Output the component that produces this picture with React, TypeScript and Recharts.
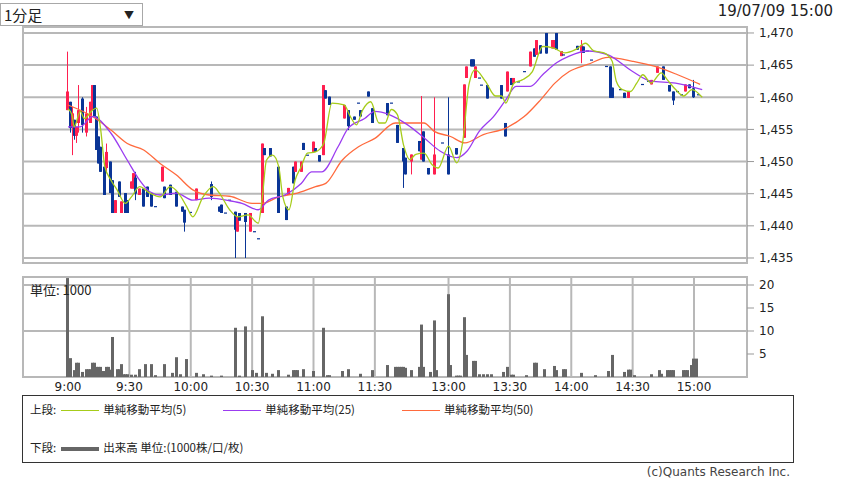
import React from 'react';
import {
  ComposedChart,
  Bar,
  Line,
  XAxis,
  YAxis,
  CartesianGrid,
  ReferenceArea,
} from 'recharts';

// x = minutes from 9:00 (lunch break squeezed: 12:30 session opens at 156)
const TIME_TICKS = [0, 30, 60, 90, 120, 150, 186, 216, 246, 276, 306];
const TIME_LABELS = ['9:00', '9:30', '10:00', '10:30', '11:00', '11:30', '13:00', '13:30', '14:00', '14:30', '15:00'];
const PRICE_TICKS = [1435, 1440, 1445, 1450, 1455, 1460, 1465, 1470];
const VOLUME_TICKS = [5, 10, 15, 20];

// [minute, open, high, low, close]
const AM_CANDLES = [
  [0, 1458.0, 1467.1, 1458.0, 1460.9], [1, 1459.3, 1459.3, 1454.5, 1455.2], [2, 1455.5, 1458.5, 1451.0, 1457.5],
  [3, 1456.5, 1456.5, 1453.4, 1454.0], [4, 1454.0, 1455.4, 1452.9, 1455.4], [5, 1456.0, 1461.9, 1454.5, 1458.0],
  [7, 1459.8, 1460.0, 1454.5, 1455.7], [9, 1454.5, 1458.5, 1453.9, 1457.5], [11, 1456.0, 1459.3, 1456.0, 1459.3],
  [12, 1458.5, 1461.9, 1458.0, 1461.9], [13, 1461.9, 1461.9, 1457.0, 1457.0], [14, 1457.0, 1457.0, 1451.8, 1451.8],
  [15, 1453.9, 1453.9, 1449.7, 1449.7], [16, 1452.3, 1452.3, 1448.4, 1448.4], [18, 1449.2, 1449.2, 1444.8, 1444.8],
  [19, 1449.0, 1452.8, 1448.2, 1451.5], [21, 1450.0, 1450.0, 1445.1, 1445.1], [22, 1447.1, 1447.1, 1442.0, 1442.0],
  [23, 1442.0, 1444.0, 1442.0, 1444.0], [25, 1446.9, 1446.9, 1444.5, 1444.5], [26, 1442.0, 1443.8, 1442.0, 1443.8],
  [28, 1445.1, 1445.1, 1442.0, 1442.0], [29, 1444.0, 1444.0, 1442.0, 1442.0], [31, 1445.8, 1446.9, 1445.8, 1446.9],
  [32, 1445.8, 1448.2, 1445.8, 1448.2], [33, 1447.5, 1448.4, 1444.0, 1445.0], [35, 1444.8, 1445.8, 1444.8, 1445.8],
  [37, 1445.8, 1445.8, 1443.0, 1443.0], [39, 1446.1, 1446.1, 1444.5, 1444.5], [41, 1445.1, 1445.1, 1443.0, 1443.0],
  [43, 1443.0, 1443.0, 1443.0, 1443.0], [46, 1446.9, 1449.2, 1446.9, 1449.2], [47, 1446.1, 1446.1, 1444.3, 1444.3],
  [50, 1446.4, 1446.4, 1444.8, 1444.8], [53, 1445.3, 1445.3, 1443.0, 1443.0], [56, 1443.0, 1443.0, 1442.2, 1442.2],
  [57, 1442.5, 1442.5, 1439.1, 1440.5], [60, 1442.1, 1442.1, 1442.1, 1442.1], [63, 1444.0, 1445.8, 1444.0, 1445.8],
  [70, 1446.5, 1446.9, 1444.0, 1444.5], [74, 1443.0, 1443.0, 1442.2, 1442.2], [75, 1443.3, 1443.3, 1442.0, 1442.0],
  [77, 1442.0, 1442.0, 1442.0, 1442.0], [79, 1444.0, 1444.0, 1444.0, 1444.0], [82, 1442.2, 1442.2, 1435.0, 1439.4],
  [83, 1439.1, 1441.4, 1439.1, 1441.4], [84, 1442.0, 1442.0, 1440.8, 1440.8], [87, 1442.0, 1442.0, 1435.0, 1440.6],
  [89, 1439.1, 1442.0, 1439.1, 1442.0], [91, 1439.1, 1439.1, 1439.1, 1439.1], [93, 1438.0, 1438.0, 1438.0, 1438.0],
  [95, 1442.0, 1452.8, 1442.0, 1452.8], [96, 1452.1, 1452.1, 1451.0, 1451.0], [99, 1452.1, 1452.1, 1450.8, 1450.8],
  [103, 1449.2, 1449.2, 1442.0, 1442.0], [107, 1443.0, 1443.0, 1440.9, 1440.9], [108, 1444.8, 1445.9, 1444.8, 1445.9],
  [110, 1449.2, 1449.2, 1446.6, 1446.6], [111, 1448.4, 1450.0, 1448.4, 1450.0], [114, 1448.4, 1450.0, 1448.4, 1450.0],
  [115, 1452.9, 1452.9, 1451.8, 1451.8], [117, 1451.0, 1451.0, 1451.0, 1451.0], [120, 1451.5, 1453.1, 1451.5, 1453.1],
  [121, 1452.1, 1452.1, 1451.5, 1451.5], [123, 1451.0, 1451.0, 1450.0, 1450.0], [125, 1451.0, 1461.9, 1451.0, 1461.9],
  [126, 1461.1, 1461.1, 1459.8, 1459.8], [128, 1460.1, 1460.1, 1458.8, 1458.8], [135, 1456.7, 1458.8, 1456.7, 1458.8],
  [137, 1458.0, 1458.0, 1454.9, 1455.5], [140, 1457.0, 1457.0, 1456.5, 1456.5], [142, 1459.1, 1459.1, 1459.1, 1459.1],
  [143, 1458.0, 1458.0, 1457.0, 1457.0], [147, 1460.9, 1460.9, 1460.1, 1460.1], [149, 1458.3, 1458.3, 1456.0, 1456.0],
];

const PM_CANDLES = [
  [156, 1459.1, 1459.1, 1457.2, 1457.2], [158, 1459.1, 1459.1, 1459.1, 1459.1], [161, 1455.7, 1455.7, 1452.9, 1452.9],
  [164, 1452.1, 1452.1, 1445.9, 1450.0], [165, 1450.6, 1450.6, 1448.0, 1448.0], [168, 1450.0, 1451.1, 1448.0, 1451.1],
  [172, 1453.2, 1453.2, 1451.6, 1451.6], [173, 1450.3, 1460.2, 1450.3, 1452.9], [174, 1454.7, 1454.7, 1450.0, 1450.0],
  [176, 1449.0, 1449.0, 1448.0, 1448.0], [179, 1448.0, 1460.0, 1448.0, 1451.1], [183, 1452.9, 1452.9, 1452.9, 1452.9],
  [186, 1451.1, 1460.0, 1448.0, 1448.0], [190, 1452.1, 1452.1, 1451.1, 1451.1], [194, 1453.7, 1462.0, 1453.7, 1462.0],
  [195, 1463.0, 1464.8, 1463.0, 1464.8], [197, 1465.9, 1465.9, 1464.8, 1464.8], [198, 1465.9, 1465.9, 1464.8, 1464.8],
  [199, 1463.0, 1464.8, 1463.0, 1464.8], [201, 1463.0, 1463.0, 1463.0, 1463.0], [202, 1461.9, 1461.9, 1461.9, 1461.9],
  [205, 1461.9, 1461.9, 1459.8, 1459.8], [212, 1461.9, 1461.9, 1459.8, 1459.8], [214, 1456.0, 1456.0, 1453.9, 1453.9],
  [215, 1460.9, 1464.0, 1460.9, 1464.0], [217, 1463.0, 1463.0, 1461.9, 1461.9], [218, 1462.2, 1463.0, 1462.2, 1463.0],
  [220, 1462.4, 1462.4, 1462.4, 1462.4], [223, 1464.0, 1464.0, 1464.0, 1464.0], [226, 1464.8, 1467.1, 1464.8, 1467.1],
  [228, 1467.6, 1467.6, 1466.3, 1466.3], [229, 1466.6, 1468.9, 1466.6, 1468.9], [231, 1468.1, 1468.1, 1466.8, 1466.8],
  [234, 1470.0, 1470.0, 1466.8, 1466.8], [237, 1467.6, 1468.9, 1467.6, 1468.9], [238, 1467.6, 1468.9, 1467.6, 1468.9],
  [239, 1470.0, 1470.0, 1467.4, 1467.4], [241, 1466.4, 1467.2, 1466.4, 1467.2], [242, 1466.6, 1466.6, 1466.6, 1466.6],
  [249, 1468.0, 1468.0, 1467.4, 1467.4], [251, 1467.1, 1468.9, 1465.3, 1468.1], [252, 1467.9, 1467.9, 1466.9, 1466.9],
  [254, 1467.2, 1467.2, 1467.2, 1467.2], [256, 1465.8, 1465.8, 1465.8, 1465.8], [263, 1464.8, 1464.8, 1464.8, 1464.8],
  [265, 1464.8, 1464.8, 1459.9, 1459.9], [266, 1461.5, 1461.5, 1459.9, 1459.9], [270, 1461.2, 1461.2, 1461.2, 1461.2],
  [272, 1460.7, 1460.7, 1459.9, 1459.9], [274, 1459.9, 1460.9, 1459.9, 1460.9], [281, 1462.0, 1462.0, 1462.0, 1462.0],
  [284, 1462.5, 1462.5, 1462.5, 1462.5], [285, 1462.0, 1462.7, 1462.0, 1462.7], [288, 1463.8, 1464.8, 1463.8, 1464.8],
  [291, 1464.8, 1464.8, 1462.7, 1462.7], [294, 1461.9, 1461.9, 1460.9, 1460.9], [296, 1460.9, 1460.9, 1458.8, 1459.5],
  [298, 1460.9, 1460.9, 1460.9, 1460.9], [300, 1460.4, 1460.4, 1460.4, 1460.4], [302, 1460.9, 1462.0, 1460.9, 1462.0],
  [304, 1462.0, 1462.0, 1461.4, 1461.4], [306, 1461.4, 1462.7, 1459.9, 1460.0], [308, 1460.4, 1460.4, 1460.4, 1460.4],
];

// [minute, volume in 1000 shares]
const AM_VOLUME = [
  [0, 21.5], [1, 4.1], [3, 1.5], [4, 3.1], [5, 3.1], [7, 1.1], [9, 1.7], [10, 1.7], [11, 1.7], [12, 3.1],
  [13, 3.1], [14, 2.2], [15, 2.2], [16, 2.2], [17, 1.3], [18, 1.3], [19, 2.2], [20, 2.2], [21, 1.6], [22, 8.7],
  [24, 1.7], [25, 1.7], [26, 2.8], [27, 0.6], [28, 0.6], [29, 0.6], [31, 0.5], [33, 0.5], [35, 1.7], [38, 2.8],
  [41, 2.8], [43, 0.4], [47, 2.8], [51, 0.9], [53, 4.3], [55, 0.6], [58, 3.9], [63, 0.9], [66, 0.6], [70, 0.3],
  [75, 0.3], [82, 10.7], [84, 0.3], [87, 11.0], [90, 1.5], [92, 0.9], [95, 13.2], [97, 0.9], [100, 0.7], [103, 1.5],
  [108, 0.5], [110, 1.5], [111, 1.5], [112, 1.5], [115, 1.7], [120, 1.3], [125, 10.7], [127, 0.4], [128, 0.4],
  [134, 1.3], [137, 1.7], [143, 0.7], [149, 1.5],
];

const PM_VOLUME = [
  [156, 2.6], [160, 2.2], [161, 2.2], [162, 2.2], [163, 2.2], [164, 2.2], [165, 2.0], [168, 1.5], [172, 2.2],
  [173, 11.4], [174, 2.2], [177, 1.1], [179, 12.3], [180, 1.5], [186, 18.0], [187, 2.6], [190, 0.3], [191, 0.3],
  [192, 0.3], [194, 13.0], [195, 4.8], [198, 3.5], [199, 3.5], [201, 0.6], [203, 0.6], [205, 0.6], [207, 0.6],
  [213, 1.1], [215, 2.2], [217, 0.5], [218, 0.5], [224, 0.4], [228, 3.1], [229, 3.1], [233, 1.7], [238, 2.4],
  [239, 1.5], [242, 1.7], [243, 1.7], [251, 0.9], [258, 0.4], [264, 1.3], [266, 4.8], [272, 1.1], [274, 1.6],
  [275, 1.6], [277, 0.4], [285, 0.6], [289, 1.5], [290, 0.7], [293, 1.5], [294, 1.5], [295, 1.5], [296, 1.5],
  [301, 1.5], [302, 1.5], [303, 1.5], [305, 2.6], [306, 4.0], [307, 4.0],
];

// moving averages: [minute, value]
const SMA5 = [
  [0, 1458.2], [2, 1457.2], [3, 1455.4], [6, 1457.8], [8, 1456.7], [12, 1458.0], [14, 1458.3], [16, 1454.9],
  [18, 1449.2], [21, 1447.1], [24, 1445.6], [28, 1443.5], [31, 1444.5], [35, 1446.1], [40, 1445.1], [45, 1444.5],
  [50, 1446.1], [54, 1445.1], [58, 1443.0], [61, 1441.4], [66, 1444.5], [71, 1446.1], [74, 1445.1], [79, 1442.5],
  [83, 1441.4], [88, 1441.7], [93, 1440.4], [95, 1444.5], [97, 1450.2], [100, 1451.0], [103, 1449.2], [105, 1444.5],
  [108, 1442.5], [111, 1447.1], [114, 1449.2], [117, 1451.3], [121, 1451.5], [125, 1452.8], [129, 1459.1],
  [135, 1458.8], [138, 1457.0], [141, 1455.7], [144, 1458.0], [148, 1459.3], [152, 1456.0], [155, 1456.0],
  [158, 1458.1], [161, 1457.3], [164, 1452.6], [167, 1450.3], [170, 1451.1], [174, 1451.3], [178, 1449.5],
  [181, 1449.0], [186, 1452.4], [190, 1449.8], [193, 1453.2], [196, 1462.0], [199, 1464.3], [204, 1462.5],
  [209, 1460.2], [212, 1460.2], [214, 1459.1], [218, 1462.2], [222, 1462.7], [227, 1464.0], [232, 1467.9],
  [237, 1467.7], [243, 1466.9], [248, 1467.4], [253, 1468.4], [257, 1467.2], [262, 1466.9], [266, 1465.6],
  [268, 1462.5], [271, 1461.2], [275, 1460.9], [278, 1462.2], [281, 1463.5], [285, 1462.2], [290, 1463.8],
  [293, 1462.7], [297, 1461.2], [301, 1460.2], [305, 1461.2], [310, 1460.0],
];

const SMA25 = [
  [0, 1455.4], [6, 1455.4], [12, 1457.0], [21, 1454.4], [29, 1450.2], [35, 1447.1], [40, 1445.3], [45, 1444.8],
  [53, 1445.1], [61, 1444.0], [69, 1444.3], [79, 1443.9], [85, 1443.5], [93, 1442.5], [98, 1444.0], [106, 1444.8],
  [114, 1446.6], [119, 1448.4], [124, 1448.4], [132, 1452.3], [137, 1455.2], [145, 1456.7], [150, 1457.8],
  [157, 1457.3], [166, 1455.7], [174, 1453.7], [182, 1451.6], [190, 1450.6], [195, 1451.6], [201, 1454.7],
  [208, 1457.0], [214, 1459.6], [219, 1461.7], [226, 1461.7], [232, 1463.5], [239, 1465.4], [245, 1466.4],
  [254, 1467.2], [264, 1466.6], [276, 1464.0], [285, 1462.5], [297, 1462.2], [310, 1461.2],
];

const SMA50 = [
  [0, 1458.8], [12, 1457.0], [21, 1454.9], [29, 1452.8], [37, 1451.8], [45, 1449.7], [53, 1447.9], [61, 1445.6],
  [69, 1444.8], [79, 1444.6], [90, 1443.5], [95, 1443.5], [103, 1444.5], [111, 1445.0], [121, 1446.1],
  [126, 1446.6], [134, 1450.2], [142, 1452.3], [150, 1453.6], [160, 1456.0], [174, 1456.0], [179, 1454.7],
  [187, 1453.9], [194, 1452.9], [203, 1454.2], [214, 1455.2], [223, 1457.0], [231, 1459.6], [238, 1462.2],
  [245, 1464.0], [254, 1465.1], [264, 1466.2], [276, 1465.6], [287, 1464.8], [298, 1463.5], [309, 1462.0],
];

const X_DOMAIN = [-22, 331.9];
const PRICE_DOMAIN = [1434.22, 1470.93];
const VOLUME_DOMAIN = [0, 21.74];

const UP = '#ff1f4f';
const DOWN = '#0a3596';
const GRID = '#b8b8b8';
const FONT = '"DejaVu Sans", sans-serif';
const JP = '"Noto Sans CJK JP", sans-serif';

const candles = [...AM_CANDLES, ...PM_CANDLES].map(([t, o, h, l, c]) => ({
  t, o, h, l, c,
  range: [l, h > l ? h : h + 0.001],
}));
const volumes = [...AM_VOLUME, ...PM_VOLUME].map(([t, v]) => ({ t, v }));
const toPoints = (rows: number[][]) => rows.map(([t, v]) => ({ t, v }));

const Candle = (props: any) => {
  const { x, y, width, height, payload } = props;
  if (!payload || !Number.isFinite(x) || !Number.isFinite(y)) return <g />;
  const { o, h, l, c } = payload;
  const k = h > l ? height / (h - l) : 0;
  const cx = Math.floor(x + width / 2);
  const top = y + (h - Math.max(o, c)) * k;
  const bottom = y + (h - Math.min(o, c)) * k;
  if (o === c) {
    return (
      <g>
        {h > l && <rect x={cx} y={y} width={1} height={height} fill={DOWN} />}
        <rect x={cx - 1} y={top - 0.5} width={3} height={1.2} fill={DOWN} />
      </g>
    );
  }
  const color = c > o ? UP : DOWN;
  return (
    <g>
      <rect x={cx} y={y} width={1} height={Math.max(height, 1)} fill={color} />
      <rect x={cx - 1} y={top} width={3} height={Math.max(bottom - top, 1)} fill={color} />
    </g>
  );
};

const VolumeBar = (props: any) => {
  const { x, y, width, height } = props;
  if (!Number.isFinite(x) || !Number.isFinite(y)) return <g />;
  const cx = Math.floor(x + width / 2);
  return <rect x={cx - 1} y={y} width={3} height={Math.max(height, 0)} fill="#666666" />;
};

const fmtPrice = (v: number) => v.toLocaleString('en-US');

const LegendLine = ({ color, thick }: { color: string; thick?: boolean }) => (
  <span
    style={{
      display: 'inline-block',
      width: 38,
      height: 0,
      borderTop: `${thick ? 4 : 1.5}px solid ${color}`,
      verticalAlign: 'middle',
      margin: '0 4px 0 5px',
    }}
  />
);

export default function App() {
  return (
    <div
      style={{
        position: 'absolute',
        left: 0,
        top: 0,
        width: 844,
        height: 486,
        background: '#fff',
        fontFamily: FONT,
        color: '#222',
        overflow: 'hidden',
      }}
    >
      {/* period selector */}
      <div
        style={{
          position: 'absolute',
          left: 0,
          top: 3,
          width: 138,
          height: 21,
          border: '1px solid #a8a8a8',
          fontFamily: JP,
          fontSize: 15,
          lineHeight: '21px',
          paddingLeft: 3,
          boxSizing: 'content-box',
        }}
      >
        1分足
        <span style={{ position: 'absolute', right: 8, top: 0, fontSize: 10 }}>▼</span>
      </div>
      <div style={{ position: 'absolute', right: 11, top: 2, fontSize: 15 }}>19/07/09 15:00</div>

      {/* price chart */}
      <div style={{ position: 'absolute', left: 0, top: 0 }}>
        <ComposedChart
          width={844}
          height={270}
          data={candles}
          margin={{ top: 27, right: 46, bottom: 7, left: 23 }}
        >
          <CartesianGrid stroke={GRID} strokeWidth={2} />
          <ReferenceArea
            x1={X_DOMAIN[0]}
            x2={X_DOMAIN[1]}
            y1={PRICE_DOMAIN[0]}
            y2={PRICE_DOMAIN[1]}
            fill="none"
            fillOpacity={0}
            stroke={GRID}
            strokeWidth={2}
          />
          <XAxis
            dataKey="t"
            type="number"
            domain={X_DOMAIN}
            allowDataOverflow
            ticks={TIME_TICKS}
            height={0}
            tick={false}
            axisLine={false}
            tickLine={false}
          />
          <YAxis
            orientation="right"
            domain={PRICE_DOMAIN}
            allowDataOverflow
            ticks={PRICE_TICKS}
            tickFormatter={fmtPrice}
            width={51}
            axisLine={false}
            tickLine={{ stroke: '#999' }}
            tickSize={7}
            tickMargin={5}
            tick={{ fontSize: 12, fill: '#222', fontFamily: FONT }}
          />
          <Bar dataKey="range" barSize={2} shape={Candle} isAnimationActive={false} />
          <Line data={toPoints(SMA50)} dataKey="v" type="monotone" stroke="#ff6a3d" strokeWidth={1.3} dot={false} isAnimationActive={false} />
          <Line data={toPoints(SMA25)} dataKey="v" type="monotone" stroke="#9b3cf0" strokeWidth={1.3} dot={false} isAnimationActive={false} />
          <Line data={toPoints(SMA5)} dataKey="v" type="monotone" stroke="#a6cc1a" strokeWidth={1.3} dot={false} isAnimationActive={false} />
        </ComposedChart>
      </div>

      {/* volume chart */}
      <div style={{ position: 'absolute', left: 0, top: 270 }}>
        <ComposedChart
          width={844}
          height={125}
          data={volumes}
          margin={{ top: 7, right: 46, bottom: 0, left: 23 }}
        >
          <CartesianGrid stroke={GRID} strokeWidth={2} />
          <ReferenceArea
            x1={X_DOMAIN[0]}
            x2={X_DOMAIN[1]}
            y1={VOLUME_DOMAIN[0]}
            y2={VOLUME_DOMAIN[1]}
            fill="none"
            fillOpacity={0}
            stroke={GRID}
            strokeWidth={2}
          />
          <XAxis
            dataKey="t"
            type="number"
            domain={X_DOMAIN}
            allowDataOverflow
            ticks={TIME_TICKS}
            tickFormatter={(v: number) => TIME_LABELS[TIME_TICKS.indexOf(v)]}
            height={18}
            axisLine={false}
            tickLine={false}
            tickSize={2}
            tickMargin={3}
            interval={0}
            tick={{ fontSize: 12, fill: '#222', fontFamily: FONT }}
          />
          <YAxis
            orientation="right"
            domain={VOLUME_DOMAIN}
            allowDataOverflow
            ticks={VOLUME_TICKS}
            width={51}
            axisLine={false}
            tickLine={{ stroke: '#999' }}
            tickSize={7}
            tickMargin={5}
            tick={{ fontSize: 12, fill: '#222', fontFamily: FONT }}
          />
          <Bar dataKey="v" barSize={2} shape={VolumeBar} isAnimationActive={false} />
        </ComposedChart>
      </div>
      <div style={{ position: 'absolute', left: 30, top: 280, fontSize: 13, fontFamily: JP }}>単位: 1000</div>

      {/* legend */}
      <div
        style={{
          position: 'absolute',
          left: 22,
          top: 395,
          width: 770,
          height: 66,
          border: '1px solid #333',
          fontFamily: JP,
          fontSize: 11.5,
        }}
      >
        <div style={{ position: 'absolute', left: 7, top: 5, whiteSpace: 'nowrap' }}>
          上段:
          <LegendLine color="#a6cc1a" />
          単純移動平均(5)
          <span style={{ display: 'inline-block', width: 32 }} />
          <LegendLine color="#9b3cf0" />
          単純移動平均(25)
          <span style={{ display: 'inline-block', width: 42 }} />
          <LegendLine color="#ff6a3d" />
          単純移動平均(50)
        </div>
        <div style={{ position: 'absolute', left: 7, top: 43, whiteSpace: 'nowrap' }}>
          下段:
          <LegendLine color="#666" thick />
          出来高 単位:(1000株/口/枚)
        </div>
      </div>
      <div style={{ position: 'absolute', right: 54, top: 465, fontSize: 12, color: '#444' }}>
        (c)Quants Research Inc.
      </div>
    </div>
  );
}
